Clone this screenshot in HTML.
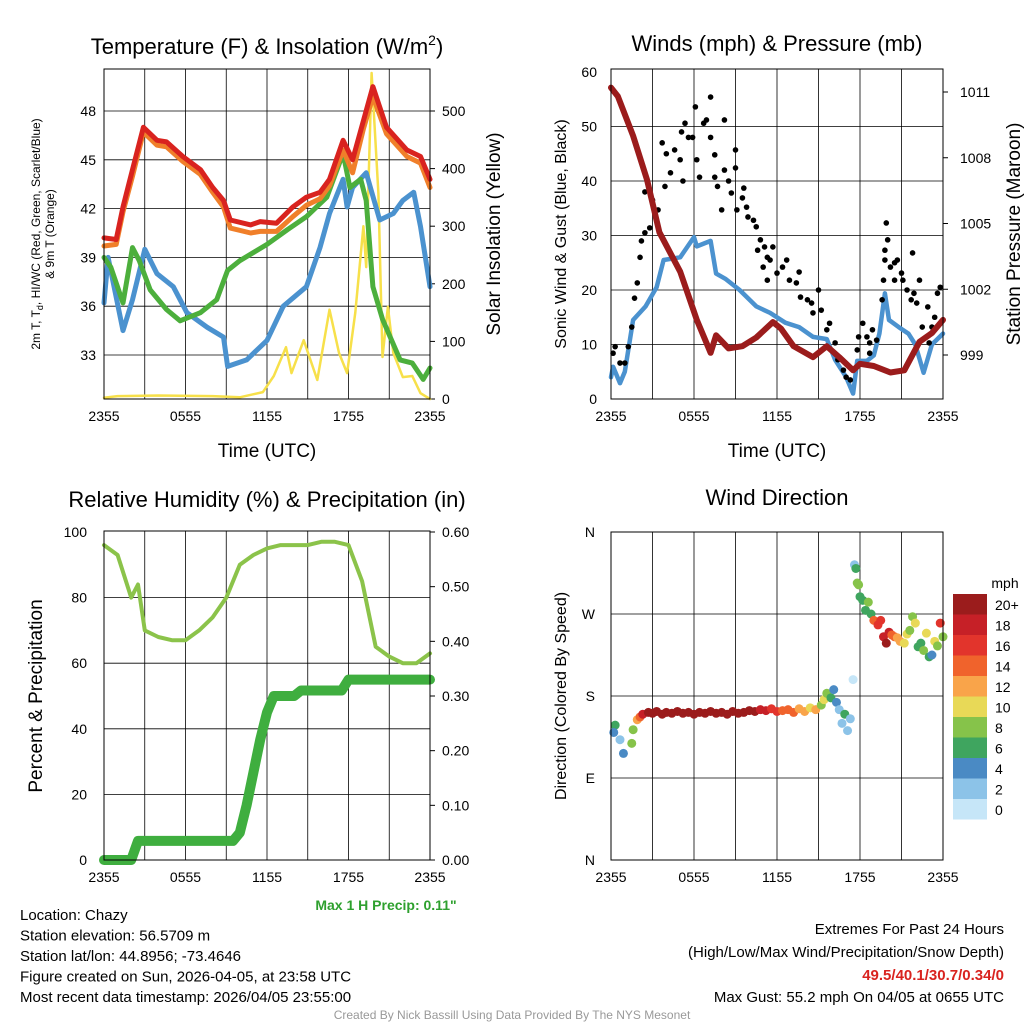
<!DOCTYPE html>
<html><head><meta charset="utf-8"><style>
body{margin:0;background:#fff;}
svg{display:block;font-family:"Liberation Sans",sans-serif;}
</style></head><body>
<svg id="s" width="1024" height="1024" viewBox="0 0 1024 1024">
<g id="g"></g>
</svg>
<script>
// ---------- DATA ----------
const tempHours=[0,0.9,1.4,2.1,2.9,3.9,4.6,5.8,7.1,8.0,8.8,9.3,10.8,11.5,12.7,13.9,14.9,15.9,16.6,17.6,18.3,19.1,19.8,20.8,22.3,23.3,24];
const tempRed=[40.2,40.1,42.1,44.4,47.0,46.2,46.1,45.2,44.4,43.3,42.5,41.3,41.0,41.2,41.1,42.1,42.7,43.0,43.8,46.2,45.0,47.4,49.5,47.0,45.6,45.2,43.8];
const tempOrange=[39.7,39.8,41.8,44.0,46.7,45.9,45.8,44.9,44.1,43.0,42.1,40.8,40.5,40.6,40.6,41.5,42.2,42.6,43.4,45.6,44.2,46.9,48.9,46.6,45.2,44.8,43.3];
const greenHours=[0,0.5,1.4,2.1,2.6,3.4,4.6,5.6,7.1,8.3,9.1,10,12,13.5,14.9,16.4,17.6,18.1,18.9,19.3,19.8,20.5,21.8,22.7,23.5,24];
const tGreen=[39.0,38.4,36.2,39.6,38.8,37.0,35.8,35.1,35.6,36.4,38.2,38.8,39.8,40.7,41.5,42.7,45.4,43.3,43.8,42.5,37.2,35.2,32.7,32.5,31.5,32.2];
const tdBlueHours=[0,0.3,1.4,2.1,3.0,3.9,5.1,6.1,7.6,8.8,9.1,10.5,12,13.2,14.9,15.9,16.6,17.6,17.9,18.3,19.3,20.3,21.3,22,22.8,23.3,24];
const tdBlue=[36.2,39.0,34.5,36.4,39.5,38.0,37.2,35.6,34.7,34.1,32.3,32.7,33.9,36.0,37.2,39.6,41.7,43.8,42.1,43.3,44.2,41.3,41.7,42.5,43.0,40.9,37.2];
const solarHours=[0,1,4,8,10,11.7,12.5,13.4,13.8,14.7,15.7,16.6,17.3,17.9,18.5,19.1,19.3,19.7,20.2,20.5,20.9,21.3,22,22.7,23.3,24];
const solar=[2,5,6,5,3,12,40,90,45,102,33,155,80,45,150,300,229,566,357,73,160,80,38,40,10,0];

const windHours=[0,0.15,0.65,1,1.6,2.5,3.3,3.8,5.0,6.0,6.2,7.2,7.6,8.3,9.3,10.5,11.5,12.6,13.6,14.6,15.6,16.2,17.0,17.5,17.8,18.5,19.0,19.4,19.8,20.1,20.8,21.5,22.0,22.6,23.2,24];
const windSust=[4,5.9,2.9,5,14.5,17,20.5,25.5,26,29.7,28,29,23,22,20,17,15.8,14,13.2,11.4,11,7.2,4,1,7,7,8,12,19.4,14.5,13.2,12,10,4.8,10,12];
const presHours=[0,0.5,1.6,2.6,3.5,5,6.2,7.2,7.6,8.5,9.5,10.5,11.7,12.3,13.2,14.6,15.6,16.5,17.5,18,19,20.2,21.2,22.3,23.2,24];
const pressure=[1011.2,1010.8,1009.0,1007.0,1004.6,1002.8,1000.6,999.1,999.9,999.3,999.4,999.8,1000.5,1000.2,999.4,998.9,999.4,998.9,998.3,998.6,998.5,998.2,998.3,999.6,1000.0,1000.6];
const gustHours=[0.15,0.3,0.65,1,1.25,1.5,1.7,1.9,2.1,2.2,2.45,2.8,2.45,3,3.4,3.7,3.9,4,4.3,4.6,5,5.1,5.35,5.6,5.2,6.1,5.9,6.2,6.4,6.7,6.9,7.2,7.2,7.5,7.5,7.7,8.2,8.2,8.5,8.7,8,9,9,9.1,9.5,9.6,9.8,9.9,10.3,10.5,10.8,10.6,11.1,11.3,11.0,11.5,11.7,11.3,12,12.4,12.7,12.9,13.4,13.6,13.7,14.2,14.5,14.6,15,15.2,15.6,15.8,16.2,16.4,16.8,17.0,17.3,17.8,17.9,18.2,18.5,18.7,18.9,19.2,18.7,19.6,19.7,19.8,19.8,19.9,20.0,20.2,20.5,20.7,20.5,21.0,21.1,21.4,21.8,21.9,21.7,22.1,22.3,22.5,22.9,23.2,23.4,23.0,23.8,23.6];
const gust=[8.4,9.6,6.6,6.6,9.6,13.2,18.5,21.3,26,29,30.5,31.4,38,36.5,34.7,47,39,45,41.5,45.7,43.9,49,50.6,48,40,53.6,48,43.9,40.7,50.6,51.2,55.4,48,44.8,40.7,39,51.2,42,40,37.8,34.7,45.7,42.4,34.7,36.9,38.7,35.2,33.4,32.8,31.6,29.2,27.3,27.9,26,24.2,25.5,27.9,21.8,23.1,24.2,25.5,21.8,21.3,23.3,18.7,18.2,17.6,15.8,20,16.3,12.7,13.9,10.3,7.2,5.3,4,3.5,9,11.4,13.9,11.4,10.3,12.7,10.8,8.4,18.2,21.8,25.5,27.3,32.3,29.2,24.2,25,25.5,21.8,23.1,21.8,20,26.8,19.4,18.2,17.6,21.8,13.2,16.9,13.2,15,10.3,20.5,19.4];

const rhHours=[0,1,2,2.5,3,4,5,6,7,8,9,10,11,12,13,14,15,16,17,18,19,20,21,22,23,24];
const rh=[96,93,80,84,70,68,67,67,70,74,80,90,93,95,96,96,96,97,97,96,85,65,62,60,60,63];
const pcpHours=[0,2,2.5,9.5,10,10.5,11,11.5,12,12.5,14,14.5,17.5,18,24];
const precip=[0,0,0.035,0.035,0.05,0.1,0.16,0.22,0.27,0.3,0.3,0.31,0.31,0.33,0.33];

const dirHours=[0.3,0.2,0.65,0.9,1.5,1.6,1.9,2.1,2.3,2.7,3.0,3.3,3.7,4.0,4.4,4.8,5.2,5.6,6.0,6.4,6.8,7.2,7.6,8.0,8.4,8.8,9.2,9.6,10.0,10.4,10.8,11.2,11.6,12.0,12.4,12.8,13.2,13.6,14.0,14.4,14.8,15.2,15.4,15.6,15.9,16.1,16.3,16.5,16.7,16.9,17.1,17.3,17.5,17.6,17.7,17.8,17.9,18.0,18.2,18.4,18.6,18.8,19.0,19.3,19.5,19.7,19.9,20.1,20.3,20.5,20.7,20.9,21.2,21.4,21.6,21.8,22.0,22.2,22.4,22.6,22.8,23.0,23.2,23.4,23.6,23.8,24.0];
const dirDeg=[148,140,132,117,128,143,154,157,160,162,161,163,160,162,161,163,161,162,160,162,161,163,161,162,160,163,161,162,164,163,165,164,166,163,164,165,162,166,163,167,165,170,176,183,178,187,173,165,150,160,142,155,198,324,320,304,302,289,285,274,283,270,263,258,263,245,238,250,247,245,244,240,238,248,252,267,260,234,238,230,249,223,225,240,235,260,245];
const dirSpd=[6,4,3,4,8,9,13,15,18,20,20,21,20,21,21,20,21,21,20,21,21,20,21,21,20,21,21,20,21,20,18,19,17,16,15,14,15,12,13,11,12,9,10,8,7,5,4,3,2,6,2,3,0,2,6,8,8,7,6,7,8,6,15,16,17,18,20,19,15,14,12,13,11,10,9,8,11,7,6,9,10,6,4,11,9,17,8];

// ---------- helpers ----------
const NS='http://www.w3.org/2000/svg';
const root=document.getElementById('g');
function el(tag,attrs,parent,txt){const e=document.createElementNS(NS,tag);for(const k in attrs)e.setAttribute(k,attrs[k]);if(txt!==undefined)e.textContent=txt;(parent||root).appendChild(e);return e;}
function lin(d0,d1,r0,r1){return v=>r0+(v-d0)*(r1-r0)/(d1-d0);}
function poly(xs,ys,xf,yf,color,w,name){const pts=xs.map((h,i)=>xf(h).toFixed(1)+','+yf(ys[i]).toFixed(1)).join(' ');const p=el('polyline',{points:pts,fill:'none',stroke:color,'stroke-width':w,'stroke-linejoin':'round','stroke-linecap':'round'});


return p;}
function txt(x,y,s,size,anchor,extra){const t=el('text',Object.assign({x:x,y:y,'font-size':size,'text-anchor':anchor||'middle',fill:'#000'},extra||{}),root,s);return t;}
function frame(x0,y0,x1,y1,name){const r=el('rect',{x:x0,y:y0,width:x1-x0,height:y1-y0,fill:'none',stroke:'#000','stroke-width':1});

}
function vgrid(x0,x1,y0,y1){for(let i=1;i<8;i++){const x=x0+(x1-x0)*i/8;el('line',{x1:x,x2:x,y1:y0,y2:y1,stroke:'#000','stroke-width':0.8});}}
function xlabels(x0,x1,y,name){const lb=['2355','0555','1155','1755','2355'];lb.forEach((s,i)=>{const t=txt(x0+(x1-x0)*i/4,y,s,14);

});}

// ---------- Panel 1: Temperature ----------
{const X0=104,X1=430,Y0=69,Y1=399;
const xf=lin(0,24,X0,X1),yf=lin(33,48,355,111),yr=lin(0,500,399,111);
vgrid(X0,X1,Y0,Y1);
[33,36,39,42,45,48].forEach(v=>{el('line',{x1:X0,x2:X1,y1:yf(v),y2:yf(v),stroke:'#000','stroke-width':0.8});txt(X0-8,yf(v)+5,String(v),14,'end');});
[0,100,200,300,400,500].forEach(v=>{el('line',{x1:X1,x2:X1+5,y1:yr(v),y2:yr(v),stroke:'#000'});txt(X1+12,yr(v)+5,String(v),14,'start');});
poly(solarHours,solar,xf,yr,'#f7e04a',2.5,'solar-line');
poly(tdBlueHours,tdBlue,xf,yf,'#4b92cf',5,'dewpoint-line');
poly(greenHours,tGreen,xf,yf,'#4caf3c',5,'green-line');
poly(tempHours,tempOrange,xf,yf,'#f07f2a',5,'9m-temp-line');
poly(tempHours,tempRed,xf,yf,'#d9231f',5,'2m-temp-line');
frame(X0,Y0,X1,Y1,'temp-plot-frame');
xlabels(X0,X1,Y1+22,'temp-xtick');
const t=txt(267,54,'',22);t.innerHTML='Temperature (F) &amp; Insolation (W/m<tspan dy="-9" font-size="14">2</tspan><tspan dy="9">)</tspan>';

txt(267,457,'Time (UTC)',19);
const l=txt(0,0,'',12,'middle',{transform:'translate(40,234) rotate(-90)'});l.innerHTML='2m T, T<tspan dy="3" font-size="9">d</tspan><tspan dy="-3">, HI/WC (Red, Green, Scarlet/Blue)</tspan>';
txt(0,0,'& 9m T (Orange)',12,'middle',{transform:'translate(54,234) rotate(-90)'});
txt(0,0,'Solar Insolation (Yellow)',19,'middle',{transform:'translate(500,234) rotate(-90)'});
}

// ---------- Panel 2: Winds ----------
{const X0=611,X1=943,Y0=69,Y1=399;
const xf=lin(0,24,X0,X1),yf=lin(0,60,399,72),yp=lin(999,1011,355,92);
vgrid(X0,X1,Y0,Y1);
[0,10,20,30,40,50,60].forEach(v=>{if(v>0&&v<60)el('line',{x1:X0,x2:X1,y1:yf(v),y2:yf(v),stroke:'#000','stroke-width':0.8});txt(X0-14,yf(v)+5,String(v),14,'end');});
[999,1002,1005,1008,1011].forEach(v=>{el('line',{x1:X1,x2:X1+5,y1:yp(v),y2:yp(v),stroke:'#000'});txt(X1+17,yp(v)+5,String(v),14,'start');});
poly(windHours,windSust,xf,yf,'#4b92cf',4.5,'sustained-wind-line');
gustHours.forEach((h,i)=>{const c=el('circle',{cx:xf(h),cy:yf(gust[i]),r:2.8,fill:'#000'});

});
poly(presHours,pressure,xf,yp,'#9b1c1c',6,'pressure-line');
frame(X0,Y0,X1,Y1,'wind-plot-frame');
xlabels(X0,X1,Y1+22,'wind-xtick');
txt(777,51,'Winds (mph) & Pressure (mb)',22);
txt(777,457,'Time (UTC)',19);
txt(0,0,'Sonic Wind & Gust (Blue, Black)',16,'middle',{transform:'translate(566,234) rotate(-90)'});
txt(0,0,'Station Pressure (Maroon)',19,'middle',{transform:'translate(1020,234) rotate(-90)'});
}

// ---------- Panel 3: RH ----------
{const X0=104,X1=430,Y0=531,Y1=860;
const xf=lin(0,24,X0,X1),yf=lin(0,100,860,532),yr=lin(0,0.6,860,532);
vgrid(X0,X1,Y0,Y1);
[0,20,40,60,80,100].forEach(v=>{if(v>0&&v<100)el('line',{x1:X0,x2:X1,y1:yf(v),y2:yf(v),stroke:'#000','stroke-width':0.8});txt(X0-17,yf(v)+5,String(v),14,'end');});
[0,0.1,0.2,0.3,0.4,0.5,0.6].forEach(v=>{el('line',{x1:X1,x2:X1+5,y1:yr(v),y2:yr(v),stroke:'#000'});txt(X1+12,yr(v)+5,v.toFixed(2),14,'start');});
poly(rhHours,rh,xf,yf,'#8bc34a',4,'rh-line');
poly(pcpHours,precip,xf,yr,'#3fae3f',10,'precip-line');
frame(X0,Y0,X1,Y1,'rh-plot-frame');
xlabels(X0,X1,Y1+22,'rh-xtick');
txt(267,507,'Relative Humidity (%) & Precipitation (in)',22);
txt(0,0,'Percent & Precipitation',19,'middle',{transform:'translate(42,696) rotate(-90)'});
txt(386,910,'Max 1 H Precip: 0.11"',14,'middle',{fill:'#2ea02e','font-weight':'bold'});
}

// ---------- Panel 4: Wind direction ----------
const cbLabels=['20+','18','16','14','12','10','8','6','4','2','0'];
const cbColors=['#9b1c1c','#c62027','#e2342c','#f0632c','#f9a44a','#e8d957','#86c34a','#3fa55f','#4a8ac4','#8cc3e8','#c6e6f8'];
function spdColor(s){let i=10-Math.min(10,Math.floor(s/2));return cbColors[i];}
{const X0=611,X1=943,Y0=532,Y1=860;
const xf=lin(0,24,X0,X1),yf=lin(0,360,860,532);
vgrid(X0,X1,Y0,Y1);
['N','E','S','W','N'].forEach((s,i)=>{const v=i*90;if(i>0&&i<4)el('line',{x1:X0,x2:X1,y1:yf(v),y2:yf(v),stroke:'#000','stroke-width':0.8});txt(X0-16,yf(v)+5,s,14,'end');});
dirHours.forEach((h,i)=>{const c=el('circle',{cx:xf(h),cy:yf(dirDeg[i]),r:4.5,fill:spdColor(dirSpd[i])});

});
frame(X0,Y0,X1,Y1,'direction-plot-frame');
xlabels(X0,X1,Y1+22,'dir-xtick');
txt(777,505,'Wind Direction',22);
txt(0,0,'Direction (Colored By Speed)',16,'middle',{transform:'translate(566,696) rotate(-90)'});
txt(1005,588,'mph',14);
cbColors.forEach((c,i)=>{const y=594+i*20.5;el('rect',{x:953,y:y,width:34,height:20.5,fill:c});txt(995,y+16,cbLabels[i],14,'start');});
}

// ---------- footer ----------
['Location: Chazy','Station elevation: 56.5709 m','Station lat/lon: 44.8956; -73.4646','Figure created on Sun, 2026-04-05, at 23:58 UTC','Most recent data timestamp: 2026/04/05 23:55:00'].forEach((s,i)=>txt(20,920+i*20.5,s,15,'start'));
txt(1004,934,'Extremes For Past 24 Hours',15,'end');
txt(1004,957,'(High/Low/Max Wind/Precipitation/Snow Depth)',15,'end');
txt(1004,980,'49.5/40.1/30.7/0.34/0',15,'end',{fill:'#d9231f','font-weight':'bold'});
txt(1004,1002,'Max Gust: 55.2 mph On 04/05 at 0655 UTC',15,'end');
txt(512,1019,'Created By Nick Bassill Using Data Provided By The NYS Mesonet',12,'middle',{fill:'#999'});
</script>
</body></html>
